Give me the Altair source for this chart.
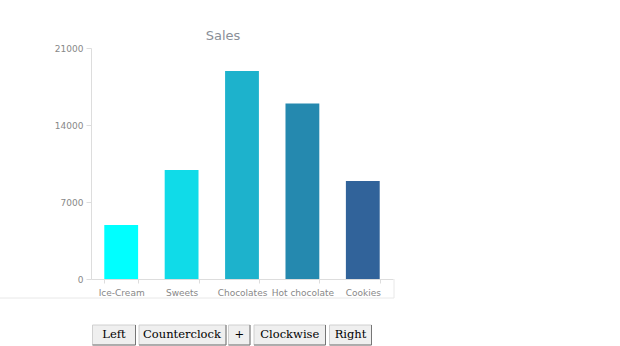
import altair as alt
import pandas as pd

categories = ["Ice-Cream", "Sweets", "Chocolates", "Hot chocolate", "Cookies"]
sales = [4900, 9900, 18900, 15950, 8900]
colors = ["#00FFFF", "#10DBE8", "#1DB2CC", "#2589AF", "#31639A"]
y_ticks = [0, 7000, 14000, 21000]
title_text = "Sales"
button_labels = ["Left", "Counterclockwise", "+", "Clockwise", "Right"]

df = pd.DataFrame({"category": categories, "sales": sales})

W, H = 302, 231
LEFT, TOP = 91, 48

bars = alt.Chart(df).mark_bar().encode(
    x=alt.X("category:N", sort=categories,
            scale=alt.Scale(paddingInner=0.44),
            axis=alt.Axis(title=None, labelAngle=0, labelFontSize=9, labelColor="#888888",
                          labelFont="DejaVu Sans", tickColor="#dddddd", domainColor="#dddddd",
                          tickSize=4, labelPadding=5, tickBand="extent")),
    y=alt.Y("sales:Q", scale=alt.Scale(domain=[0, 21000], nice=False),
            axis=alt.Axis(title=None, values=y_ticks, format="d", grid=False, labelFontSize=9,
                          labelColor="#888888", labelFont="DejaVu Sans", tickColor="#dddddd",
                          domainColor="#dddddd", tickSize=5, labelPadding=3)),
    color=alt.Color("category:N", sort=categories,
                    scale=alt.Scale(domain=categories, range=colors), legend=None),
)

one = pd.DataFrame({"k": [0]})
layers = [bars]

# container border lines
layers.append(alt.Chart(one).mark_rule(color="#e8e8e8", strokeWidth=1).encode(
    x=alt.value(-LEFT), x2=alt.value(W + 1), y=alt.value(298 - TOP)))
layers.append(alt.Chart(one).mark_rule(color="#e8e8e8", strokeWidth=1).encode(
    x=alt.value(W + 1), y=alt.value(H), y2=alt.value(298 - TOP)))

# button row (layout constants)
btn_x = [(92.5, 135.5), (139, 226), (228.5, 250), (254, 325.5), (329.5, 371.5)]
by0, by1 = 325 - TOP, 345 - TOP
for label, (x0, x1) in zip(button_labels, btn_x):
    layers.append(alt.Chart(one).mark_rect(fill="#efefef", stroke="#d0d0d0", strokeWidth=1).encode(
        x=alt.value(x0 - LEFT), x2=alt.value(x1 - LEFT), y=alt.value(by0), y2=alt.value(by1)))
    layers.append(alt.Chart(one).mark_rule(color="#767676", strokeWidth=1).encode(
        x=alt.value(x1 - LEFT), y=alt.value(by0), y2=alt.value(by1)))
    layers.append(alt.Chart(one).mark_rule(color="#767676", strokeWidth=1).encode(
        x=alt.value(x0 - LEFT), x2=alt.value(x1 - LEFT), y=alt.value(by1)))
    if label == "Counterclockwise":
        txt = alt.Chart(one).mark_text(font="DejaVu Serif", fontSize=11.5, color="#000000",
                                       align="left", baseline="middle", limit=x1 - x0 - 4.5,
                                       ellipsis="\u200b").encode(
            x=alt.value(x0 + 4 - LEFT), y=alt.value(335 - TOP), text=alt.value(label))
    else:
        txt = alt.Chart(one).mark_text(font="DejaVu Serif", fontSize=11.5, color="#000000",
                                       align="center", baseline="middle").encode(
            x=alt.value((x0 + x1) / 2 - LEFT), y=alt.value(335 - TOP), text=alt.value(label))
    layers.append(txt)

chart = alt.layer(*layers).properties(
    width=W, height=H,
    background="white",
    title=alt.TitleParams(title_text, fontSize=13, fontWeight="normal", color="#8a8f98",
                          font="DejaVu Sans", anchor="middle", dx=-19, dy=3),
    autosize=alt.AutoSizeParams(type="none"),
    padding={"left": LEFT, "top": TOP, "right": 620 - LEFT - W, "bottom": 346 - TOP - H},
).configure_view(strokeWidth=0, stroke="transparent")

chart.save("out.html", embed_options={"renderer": "svg", "actions": False})
